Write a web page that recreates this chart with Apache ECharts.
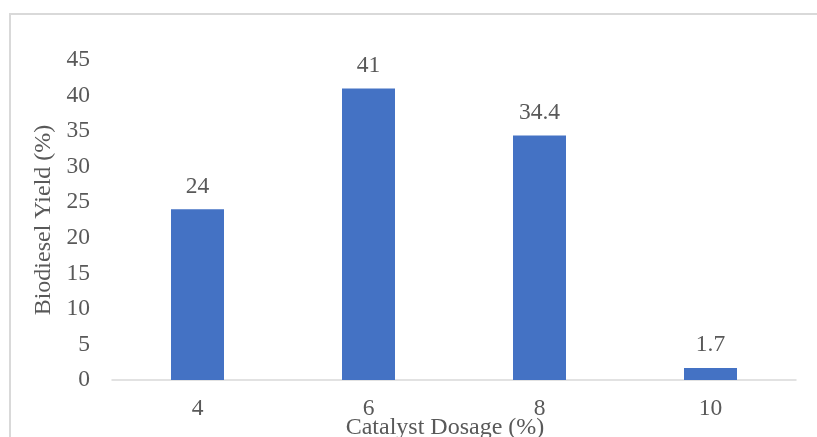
<!DOCTYPE html>
<html>
<head>
<meta charset="utf-8">
<script src="https://cdn.jsdelivr.net/npm/echarts@6/dist/echarts.min.js"></script>
<style>
  html, body { margin: 0; padding: 0; background: #ffffff; }
  #chart { width: 817px; height: 437px; }
</style>
</head>
<body>
<div id="chart"></div>
<script>
// Catalyst dosage (%) and resulting biodiesel yield (%)
const categories = ['4', '6', '8', '10'];
const yieldValues = [24, 41, 34.4, 1.7];

const serif = '"Liberation Serif", "Times New Roman", serif';
const textColor = '#595959';
const fs = 23.5;

const chart = echarts.init(document.getElementById('chart'));
chart.setOption({
  animation: false,
  backgroundColor: '#ffffff',
  graphic: [{
    type: 'rect',
    shape: { x: 10, y: 14, width: 900, height: 600 },
    style: { fill: 'none', stroke: '#d9d9d9', lineWidth: 2 },
    silent: true
  }],
  grid: {
    left: 112, right: 21, top: 60, bottom: 57,
    containLabel: false,
    outerBoundsMode: 'none'
  },
  xAxis: {
    type: 'category',
    data: categories,
    name: 'Catalyst Dosage (%)',
    nameLocation: 'middle',
    nameGap: 36,
    nameMoveOverlap: false,
    nameTextStyle: { fontFamily: serif, fontSize: 24, color: textColor, padding: [0, 18, 0, 0] },
    axisLine: { lineStyle: { color: '#d9d9d9', width: 1.5 } },
    axisTick: { show: false },
    axisLabel: { fontFamily: serif, fontSize: fs, color: textColor, margin: 17 }
  },
  yAxis: {
    type: 'value',
    min: 0,
    max: 45,
    interval: 5,
    name: 'Biodiesel Yield (%)',
    nameLocation: 'middle',
    nameGap: 56,
    nameMoveOverlap: false,
    nameTextStyle: { fontFamily: serif, fontSize: 24, color: textColor },
    axisLine: { show: false },
    axisTick: { show: false },
    splitLine: { show: false },
    axisLabel: { fontFamily: serif, fontSize: fs, color: textColor, margin: 22 }
  },
  series: [{
    type: 'bar',
    data: yieldValues,
    barWidth: 53,
    itemStyle: { color: '#4472C4' },
    label: {
      show: true,
      position: 'top',
      distance: 11,
      fontFamily: serif,
      fontSize: fs,
      color: textColor
    }
  }]
});
</script>
</body>
</html>
